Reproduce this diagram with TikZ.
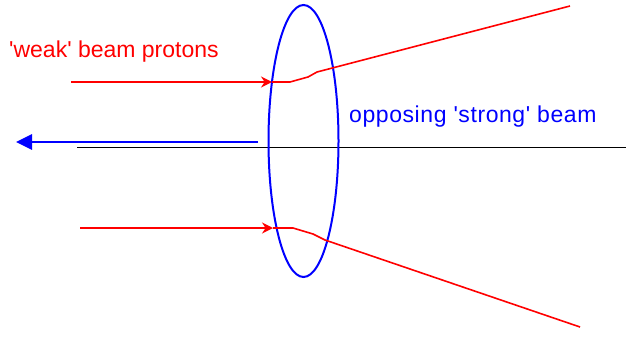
\documentclass[tikz,border=0pt]{standalone}
\usepackage{fontspec}
\setmainfont{Liberation Sans}[Ligatures=TeXOff]
\usetikzlibrary{arrows.meta,shapes.geometric}
\definecolor{myred}{RGB}{255,0,0}
\definecolor{myblue}{RGB}{0,0,255}
\begin{document}
\begin{tikzpicture}[x=1pt,y=-1pt,
  redline/.style={myred, line width=1.6pt},
  redarrow/.style={redline, -{Stealth[length=11pt,width=11pt]}},
  lbl/.style={inner sep=0pt, anchor=base west, font=\fontsize{23}{27}\selectfont}]
\useasboundingbox (0,0) rectangle (626,337);
% axis
\coordinate (axL) at (77,147);
\coordinate (axR) at (626,147);
\draw[black, line width=0.8pt] (axL) -- (axR);
% lens
\node[draw=myblue, line width=2pt, ellipse, minimum width=70pt, minimum height=272pt, inner sep=0pt] (lens) at (303.5,141) {};
% strong beam arrow
\coordinate (sb1) at (258,142);
\coordinate (sb2) at (16,142);
\draw[myblue, line width=2.8pt, -{Triangle[length=16pt,width=15pt]}] (sb1) -- (sb2);
% upper proton
\coordinate (u0) at (71,82);
\coordinate (u1) at (272,82);
\coordinate (u2) at (290,82);
\coordinate (u3) at (308,77);
\coordinate (u4) at (317,72);
\coordinate (u5) at (570,6);
\draw[redarrow] (u0) -- (u1);
\draw[redline] (u1) -- (u2) -- (u3) -- (u4) -- (u5);
% lower proton
\coordinate (l0) at (80,228);
\coordinate (l1) at (273,228);
\coordinate (l2) at (293,228);
\coordinate (l3) at (313,234);
\coordinate (l4) at (325,240);
\coordinate (l5) at (580,327);
\draw[redarrow] (l0) -- (l1);
\draw[redline] (l1) -- (l2) -- (l3) -- (l4) -- (l5);
% labels
\node[lbl, text=myred] (weak) at (9,58) {'weak' beam protons};
\node[lbl, text=myblue] (strong) at (349,122) {\addfontfeatures{LetterSpace=2.5}opposing 'strong' beam};
\end{tikzpicture}
\end{document}
